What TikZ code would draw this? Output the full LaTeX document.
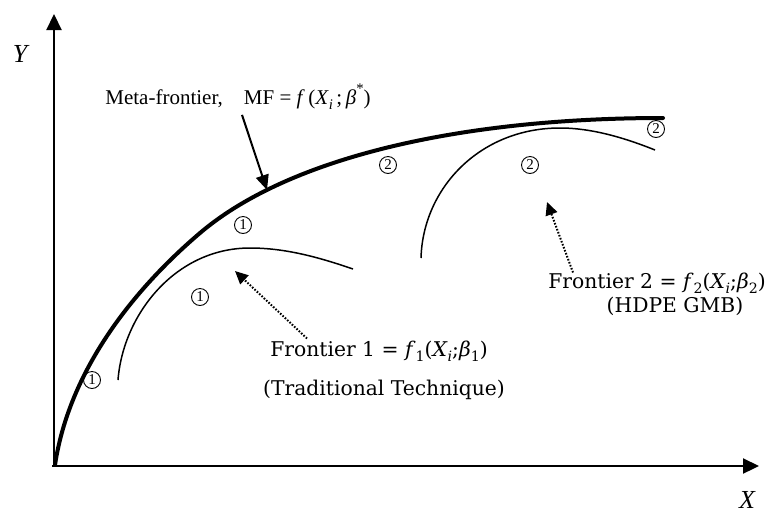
\documentclass[tikz,border=0pt]{standalone}
\usepackage{fontspec}
\setmainfont{Liberation Serif}
\newfontfamily\palfont{DejaVu Serif}
\newcommand{\mi}[1]{\textit{#1}}
\newcommand{\sbs}[1]{\raisebox{-0.25em}{\scalebox{0.7}{#1}}}
\newcommand{\sps}[1]{\raisebox{0.5em}{\scalebox{0.7}{#1}}}
\usetikzlibrary{arrows.meta}
\begin{document}
\begin{tikzpicture}[x=1pt,y=-1pt,
  mflbl/.style={font=\fontsize{21}{24}\selectfont, inner sep=0pt},
  lbl/.style={font=\palfont\fontsize{20.3}{24}\selectfont, inner sep=0pt},
  axlbl/.style={font=\itshape\fontsize{26}{27}\selectfont, inner sep=0pt},
  num/.style={circle, draw, line width=0.9pt, inner sep=0pt, minimum size=17pt, font=\fontsize{15}{15}\selectfont},
  axis/.style={line width=2.2pt, -{Triangle[length=16pt,width=15pt]}},
  metacurve/.style={line width=4pt, line cap=round},
  thincurve/.style={line width=1.5pt},
  solidarrow/.style={line width=2pt, -{Triangle[length=15pt,width=13pt]}},
  dotarrow/.style={line width=2pt, dash pattern=on 1.6pt off 1.6pt, -{Triangle[length=13pt,width=12pt]}}]
\useasboundingbox (0,0) rectangle (770,515);
% axes
\coordinate (O) at (54,465);
\coordinate (ytip) at (54,14);
\coordinate (xtip) at (759,466);
\draw[axis] (O) -- (ytip);
\draw[axis] (52,466) -- (xtip);
\node[axlbl] (ylab) at (20,54) {Y};
\node[axlbl] (xlab) at (747,500) {X};
% meta-frontier
\draw[metacurve] (55,465) .. controls (70,365) and (140,284) .. (200,233)
  .. controls (290,156.5) and (463,118) .. (663,118);
% frontier 1
\draw[thincurve] (118,380) .. controls (123,315) and (175,248) .. (250,248)
  .. controls (285,248) and (318,257) .. (353,269);
% frontier 2
\draw[thincurve] (421,258) .. controls (423,188) and (480,128) .. (560,128)
  .. controls (592,128) and (625,138) .. (655,150);
% circled numbers
\node[num] (n1a) at (92,380) {1};
\node[num] (n1b) at (243,225) {1};
\node[num] (n1c) at (200,297) {1};
\node[num] (n2a) at (388,165) {2};
\node[num] (n2b) at (530,165) {2};
\node[num] (n2c) at (656,129) {2};
% labels
\node[mflbl] (mf) at (238,97) {Meta-frontier,\quad MF = \mi{f}\,(\mi{X}\sbs{\mi{i}}\,;\,\mi{β}\sps{*})};
\node[lbl] (f1) at (379,351) {Frontier 1 = \mi{f}\sbs{1}(\mi{X}\sbs{\mi{i}};\mi{β}\sbs{1})};
\node[lbl] (f1b) at (384,390) {(Traditional Technique)};
\node[lbl] (f2) at (657,283) {Frontier 2 = \mi{f}\sbs{2}(\mi{X}\sbs{\mi{i}};\mi{β}\sbs{2})};
\node[lbl] (f2b) at (675,306) {(HDPE GMB)};
% arrows
\coordinate (mfpt) at (267,190);
\coordinate (f1pt) at (235,271);
\coordinate (f2pt) at (547,202);
\draw[solidarrow] (mf.south) ++(4,5) -- (mfpt);
\draw[dotarrow] (f1.north) ++(-72,-2) -- (f1pt);
\draw[dotarrow] (f2.north) ++(-84,0) -- (f2pt);
\end{tikzpicture}
\end{document}
